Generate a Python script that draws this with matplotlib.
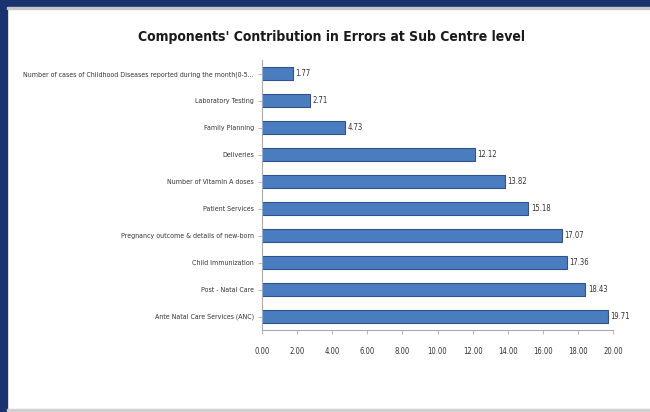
import matplotlib
matplotlib.use("Agg")
import matplotlib.pyplot as plt
from matplotlib.patches import Rectangle

categories = [
    "Number of cases of Childhood Diseases reported during the month(0-5...",
    "Laboratory Testing",
    "Family Planning",
    "Deliveries",
    "Number of Vitamin A doses",
    "Patient Services",
    "Pregnancy outcome & details of new-born",
    "Child Immunization",
    "Post - Natal Care",
    "Ante Natal Care Services (ANC)",
]
values = [1.77, 2.71, 4.73, 12.12, 13.82, 15.18, 17.07, 17.36, 18.43, 19.71]
xticks = [0, 2, 4, 6, 8, 10, 12, 14, 16, 18, 20]
title = "Components' Contribution in Errors at Sub Centre level"

W, H = 650, 412
fig = plt.figure(figsize=(W / 100, H / 100), dpi=100, facecolor="white")

navy = "#1b3270"
fig.patches.append(Rectangle((0, 0), 7 / W, 1, transform=fig.transFigure, color=navy, zorder=0))
fig.patches.append(Rectangle((0, 1 - 7 / H), 1, 7 / H, transform=fig.transFigure, color=navy, zorder=0))
fig.patches.append(Rectangle((7 / W, 1 - 9 / H), 1, 2 / H, transform=fig.transFigure, color="#c8c8c8", zorder=0))
fig.patches.append(Rectangle((7 / W, 1 / H), 1, 2 / H, transform=fig.transFigure, color="#d0d0d0", zorder=0))

font = ["DejaVu Sans"]
tk = dict(family=font, stretch="condensed", color="#333333")

ax = fig.add_axes([262 / W, 1 - 330 / H, (613 - 262) / W, (330 - 60) / H])
y = list(range(len(categories)))
ax.barh(y, values, height=0.5, color="#4a7dc0", edgecolor="#2f528f", linewidth=0.8)
ax.set_ylim(len(categories) - 0.5, -0.5)
ax.set_xlim(0, 20)
ax.set_yticks(y)
ax.set_yticklabels(categories, fontsize=5.0, **tk)
ax.set_xticks(xticks)
ax.set_xticklabels([f"{v:.2f}" for v in xticks], fontsize=5.5, **tk)
for yi, v in zip(y, values):
    ax.text(v + 0.15, yi, f"{v:.2f}", va="center", ha="left", fontsize=5.5, **tk)

for s in ["top", "right"]:
    ax.spines[s].set_visible(False)
ax.spines["left"].set_color("#aaaaaa")
ax.spines["bottom"].set_color("#aaaaaa")
ax.tick_params(axis="both", length=3, width=0.6, color="#aaaaaa", pad=3)
ax.tick_params(axis="x", pad=9)

fig.text(332 / W, 1 - 37 / H, title, ha="center", va="center", fontsize=10,
         fontweight="bold", family=font, stretch="condensed", color="#1a1a1a")

fig.savefig("out.png", dpi=100, facecolor="white")
